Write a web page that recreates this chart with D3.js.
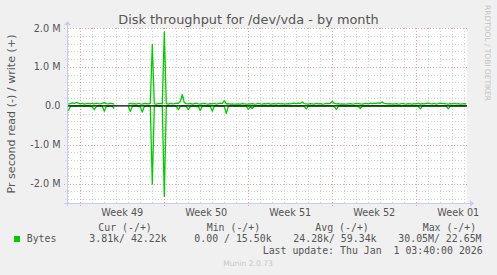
<!DOCTYPE html>
<html>
<head>
<meta charset="utf-8">
<script src="https://cdn.jsdelivr.net/npm/d3@7"></script>
<style>
  body { margin: 0; background: #f0f0f0; }
  text { font-family: "DejaVu Sans", sans-serif; fill: #555; }
  .mono { font-family: "DejaVu Sans Mono", monospace; font-size: 9.9px; }
</style>
</head>
<body>
<div id="chart"></div>
<script>
// samples every 4 hours, starting Nov 30 2025 00:00 UTC, bytes/s in k
const sampleStart = Date.UTC(2025, 10, 30, 0, 0);
const sampleStepHours = 4;

const writeK = [
  40, 55, 75, 60, 85, 70, 50, 60, 45, 55,
  60, 50, 65, 45, 70, 55, 50, 60, 80, 55,
  50, 65, 55, 45, null, null, null, null, null, null,
  45, 60, 50, 55, 40, 65, 50, 45, 60, 55,
  50, 60, 1570, 50, 45, 55, 60, 50, 1900, 55,
  45, 60, 50, 55, 70, 60, 110, 290, 80, 55,
  50, 60, 45, 55, 65, 50, 40, 55, 60, 50,
  45, 55, 50, 60, 45, 55, 65, 60, 130, 50,
  55, 45, 50, 40, 45, 50, 40, 55, 50, 45,
  40, 50, 55, 45, 50, 60, 50, 45, 55, 50,
  60, 45, 50, 55, 45, 60, 50, 55, 45, 50,
  55, 50, 60, 65, 55, 70, 60, 100, 55, 50,
  45, 55, 50, 45, 60, 50, 55, 45, 50, 60,
  55, 65, 110, 60, 50, 55, 45, 50, 40, 45,
  50, 55, 45, 50, 60, 55, 50, 45, 55, 60,
  50, 65, 55, 70, 60, 75, 65, 100, 60, 55,
  50, 55, 45, 50, 55, 45, 50, 60, 50, 45,
  55, 50, 45, 55, 50, 60, 45, 55, 50, 60,
  65, 55, 50, 60, 45, 55, 70, 60, 55, 50,
  45, 55, 50, 60, 50, 55, 45, 50, 55, 50
];

const readK = [
  -130, -20, -10, -5, -15, -10, -5, -10, -20, -10,
  -5, -15, -30, -100, -20, -10, -5, -15, -140, -20,
  -10, -5, -15, -70, null, null, null, null, null, null,
  -20, -150, -15, -10, -5, -15, -30, -160, -20, -10,
  -5, -15, -2010, -10, -5, -15, -10, -20, -2330, -10,
  -5, -15, -10, -5, -20, -100, -15, -10, -5, -15,
  -100, -15, -10, -5, -20, -15, -120, -10, -5, -15,
  -10, -20, -140, -15, -5, -10, -15, -10, -20, -200,
  -15, -10, -5, -15, -10, -5, -10, -15, -5, -10,
  -90, -20, -70, -15, -10, -5, -10, -15, -5, -10,
  -10, -5, -15, -10, -5, -10, -15, -5, -10, -5,
  -10, -15, -5, -10, -5, -15, -10, -5, -20, -80,
  -15, -10, -5, -10, -15, -5, -10, -5, -15, -10,
  -5, -10, -15, -20, -90, -15, -10, -5, -10, -15,
  -5, -10, -15, -5, -10, -20, -70, -15, -10, -5,
  -10, -15, -5, -10, -5, -15, -10, -5, -10, -15,
  -5, -10, -15, -5, -10, -5, -15, -10, -5, -10,
  -15, -5, -10, -15, -5, -10, -80, -15, -10, -5,
  -10, -15, -5, -10, -5, -15, -10, -5, -10, -15,
  -80, -15, -10, -5, -10, -15, -5, -10, -5, -10
];

const yTicks = [-2e6, -1e6, 0, 1e6, 2e6];
const yTickLabels = ["-2.0 M", "-1.0 M", "0.0", "1.0 M", "2.0 M"];
const weekLabels = ["Week 49", "Week 50", "Week 51", "Week 52", "Week 01"];
const weekStarts = [Date.UTC(2025, 11, 1), Date.UTC(2025, 11, 8), Date.UTC(2025, 11, 15),
                    Date.UTC(2025, 11, 22), Date.UTC(2025, 11, 29)];

const legendHeads = ["Cur (-/+)", "Min (-/+)", "Avg (-/+)", "Max (-/+)"];
const legendVals = ["3.81k/ 42.22k", "0.00 / 15.50k", "24.28k/ 59.34k", "30.05M/ 22.65M"];

const W = 497, H = 275;
const plotLeft = 67, plotRight = 467, plotTop = 28, plotBottom = 203;
const HOUR = 3600 * 1000;

const svg = d3.select("#chart").append("svg")
  .attr("width", W).attr("height", H);
svg.append("rect").attr("width", W).attr("height", H).attr("fill", "#f0f0f0");

const t0 = Date.UTC(2025, 10, 29, 21, 24);
const x = d3.scaleUtc()
  .domain([new Date(t0), new Date(t0 + 800 * HOUR)])
  .range([plotLeft, plotRight]);
const y = d3.scaleLinear().domain([-2.5e6, 2e6]).range([plotBottom, plotTop]);

svg.append("rect").attr("x", plotLeft).attr("y", plotTop)
  .attr("width", plotRight - plotLeft).attr("height", plotBottom - plotTop).attr("fill", "#fff");

const px = v => Math.round(v) + 0.5;

// minor grid
const days = d3.utcDay.range(new Date(t0), new Date(t0 + 800 * HOUR));
const minorDays = days.filter(d => d.getUTCDay() !== 1);
svg.append("g").selectAll("line").data(minorDays).join("line")
  .attr("x1", d => px(x(d))).attr("x2", d => px(x(d)))
  .attr("y1", plotTop).attr("y2", plotBottom + 2)
  .attr("stroke", "#d4d4d4").attr("stroke-dasharray", "1,2");

const minorY = d3.range(-24, 21, 2).map(v => v * 1e5).filter(v => v % 1e6 !== 0);
svg.append("g").selectAll("line").data(minorY).join("line")
  .attr("x1", plotLeft - 2).attr("x2", plotRight)
  .attr("y1", d => px(y(d))).attr("y2", d => px(y(d)))
  .attr("stroke", "#d4d4d4").attr("stroke-dasharray", "1,2");

// major grid
svg.append("g").selectAll("line").data(weekStarts).join("line")
  .attr("x1", d => px(x(d))).attr("x2", d => px(x(d)))
  .attr("y1", plotTop).attr("y2", plotBottom + 4)
  .attr("stroke", "#e8a0a0").attr("stroke-dasharray", "1,2");

svg.append("g").selectAll("line").data(yTicks.filter(v => v !== 0)).join("line")
  .attr("x1", plotLeft - 3).attr("x2", plotRight)
  .attr("y1", d => px(y(d))).attr("y2", d => px(y(d)))
  .attr("stroke", "#e8a0a0").attr("stroke-dasharray", "1,2");

// tick labels
svg.append("g").selectAll("text").data(yTicks).join("text")
  .attr("x", 60.5).attr("y", d => y(d) + 3.5)
  .attr("text-anchor", "end").attr("font-size", 9.7)
  .text((d, i) => yTickLabels[i]);

svg.append("g").selectAll("text").data(weekStarts).join("text")
  .attr("x", d => x(new Date(d + 84 * HOUR)))
  .attr("y", 215.5).attr("text-anchor", "middle").attr("font-size", 9.7)
  .text((d, i) => weekLabels[i]);

// data
const toPoints = arr => arr.map((v, i) => ({
  t: new Date(sampleStart + i * sampleStepHours * HOUR),
  v: v === null ? null : v * 1000
}));
const line = d3.line()
  .defined(d => d.v !== null)
  .x(d => x(d.t)).y(d => y(d.v));

[readK, writeK].forEach(arr => {
  svg.append("path").datum(toPoints(arr))
    .attr("d", line).attr("fill", "none")
    .attr("stroke", "#00cc00").attr("stroke-width", 1.3)
    .attr("stroke-linejoin", "round");
});

// zero rule
svg.append("line").attr("x1", plotLeft).attr("x2", plotRight)
  .attr("y1", y(0)).attr("y2", y(0))
  .attr("stroke", "#000").attr("stroke-width", 1.3);

// axes with arrows
const axisColor = "#c8ccf4";
svg.append("line").attr("x1", plotLeft - 3).attr("x2", plotRight + 3)
  .attr("y1", plotBottom + 0.5).attr("y2", plotBottom + 0.5).attr("stroke", axisColor);
svg.append("path").attr("d", `M${plotRight + 3},${plotBottom - 3}L${plotRight + 7},${plotBottom + 0.5}L${plotRight + 3},${plotBottom + 4}Z`)
  .attr("fill", axisColor);
svg.append("line").attr("x1", plotLeft + 0.5).attr("x2", plotLeft + 0.5)
  .attr("y1", plotBottom + 3).attr("y2", plotTop - 3).attr("stroke", axisColor);
svg.append("path").attr("d", `M${plotLeft - 3},${plotTop - 3}L${plotLeft + 0.5},${plotTop - 7}L${plotLeft + 4},${plotTop - 3}Z`)
  .attr("fill", axisColor);

// title and axis title
svg.append("text").attr("x", 248.5).attr("y", 24)
  .attr("text-anchor", "middle").attr("font-size", 12.9)
  .text("Disk throughput for /dev/vda - by month");

svg.append("text")
  .attr("transform", "translate(15,114) rotate(-90)")
  .attr("text-anchor", "middle").attr("font-size", 11.1)
  .text("Pr second read (-) / write (+)");

svg.append("text")
  .attr("transform", "translate(485,5) rotate(90)")
  .attr("font-size", 7.6).attr("textLength", 96).style("fill", "#c4c4c4")
  .text("RRDTOOL / TOBI OETIKER");

// legend
const headX = [98.3, 206.7, 315.3, 422.7];
const valX = [89.3, 194.3, 293.3, 398.3];
svg.append("g").selectAll("text").data(legendHeads).join("text")
  .attr("class", "mono").attr("x", (d, i) => headX[i]).attr("y", 230.5)
  .attr("xml:space", "preserve").text(d => d);
svg.append("g").selectAll("text").data(legendVals).join("text")
  .attr("class", "mono").attr("x", (d, i) => valX[i]).attr("y", 242)
  .attr("xml:space", "preserve").text(d => d);

svg.append("rect").attr("x", 14).attr("y", 236).attr("width", 6).attr("height", 6)
  .attr("fill", "#00cc00");
svg.append("text").attr("class", "mono").attr("x", 26.7).attr("y", 242).text("Bytes");

svg.append("text").attr("class", "mono").attr("x", 482.7).attr("y", 254)
  .attr("text-anchor", "end").attr("xml:space", "preserve")
  .text("Last update: Thu Jan  1 03:40:00 2026");

svg.append("text").attr("x", 248).attr("y", 266)
  .attr("text-anchor", "middle").attr("font-size", 7.6).style("fill", "#c8c8c8")
  .text("Munin 2.0.73");
</script>
</body>
</html>
